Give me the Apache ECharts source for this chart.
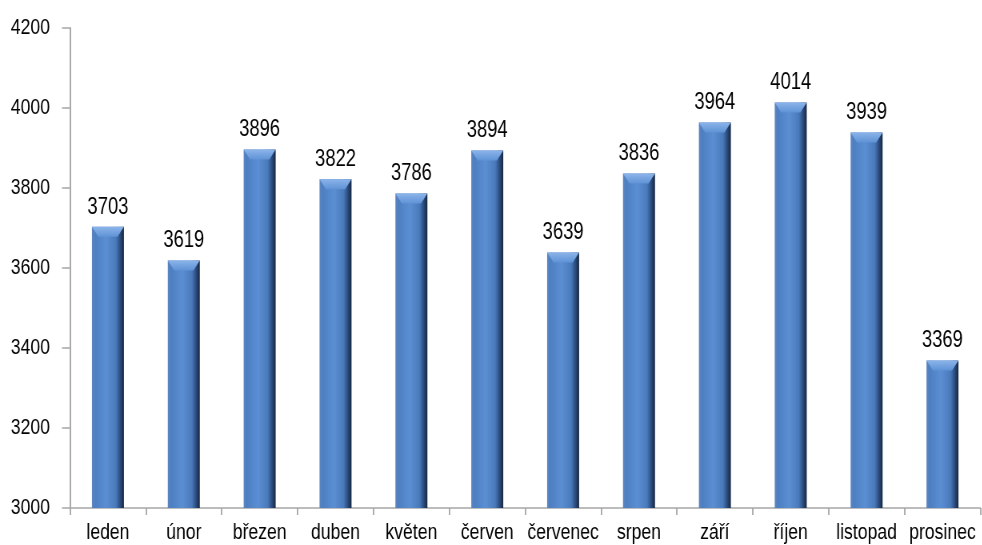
<!DOCTYPE html>
<html><head><meta charset="utf-8">
<script src="https://cdn.jsdelivr.net/npm/echarts@6/dist/echarts.min.js"></script>
<style>html,body{margin:0;padding:0;background:#fff;overflow:hidden}
#wrap{width:982px;height:545px;overflow:hidden}
#c{width:1227.5px;height:545px;transform:scaleX(0.8);transform-origin:0 0}</style>
</head><body><div id="wrap"><div id="c"></div></div>
<script>
const categories = ['leden','únor','březen','duben','květen','červen','červenec','srpen','září','říjen','listopad','prosinec'];
const values = [3703,3619,3896,3822,3786,3894,3639,3836,3964,4014,3939,3369];
const yTicks = {min:3000, max:4200, interval:200};
const FONT = '"Liberation Sans", Arial, sans-serif';
const BW = 40;
const chart = echarts.init(document.getElementById('c'));
chart.setOption({
  animation:false,
  grid:{left:87.5,right:2.5,top:28,bottom:37,containLabel:false},
  xAxis:{type:'category',data:categories,
    axisLine:{lineStyle:{color:'#a6a6a6',width:1.5}},
    axisTick:{show:true,length:7,lineStyle:{color:'#a6a6a6',width:1.8}},
    axisLabel:{color:'#000',fontFamily:FONT,fontSize:22,margin:14,interval:0}},
  yAxis:{type:'value',min:yTicks.min,max:yTicks.max,interval:yTicks.interval,
    axisLine:{show:true,lineStyle:{color:'#a6a6a6',width:1.9}},
    axisTick:{show:true,length:10,lineStyle:{color:'#a6a6a6',width:1.5}},
    splitLine:{show:false},
    axisLabel:{color:'#000',fontFamily:FONT,fontSize:22,margin:25,formatter:v=>String(v)}},
  series:[
   {type:'bar',data:values,barWidth:BW,barGap:'-100%',z:2,
    itemStyle:{color:new echarts.graphic.LinearGradient(0,0,1,0,[
      {offset:0,color:'#5f86be'},{offset:0.1,color:'#4d7fc2'},{offset:0.45,color:'#5b8fd3'},
      {offset:0.75,color:'#4a7abb'},{offset:0.88,color:'#2c4d80'},{offset:1,color:'#16263f'}])},
    label:{show:true,position:'top',distance:8,color:'#000',fontFamily:FONT,fontSize:23}},
   {type:'pictorialBar',data:values,barWidth:BW,barGap:'-100%',z:3,
    symbol:'path://M0,0 L40,0 L32,10 L8,10 Z',symbolSize:[BW,10],symbolPosition:'end',
    symbolOffset:[0,0],silent:true,
    itemStyle:{color:new echarts.graphic.LinearGradient(0,0,0,1,[
      {offset:0,color:'#8cb4ea'},{offset:1,color:'#5f93d6'}])}},
   {type:'pictorialBar',data:values,barWidth:BW,barGap:'-100%',z:3,
    symbol:'path://M8,0 L32,0 L40,10 L0,10 Z',symbolSize:[BW,10],symbolPosition:'start',
    symbolOffset:[0,0],silent:true,
    itemStyle:{color:new echarts.graphic.LinearGradient(0,0,0,1,[
      {offset:0,color:'#3f6aa6'},{offset:1,color:'#2a4a7a'}])}}
  ]
});
</script></body></html>
